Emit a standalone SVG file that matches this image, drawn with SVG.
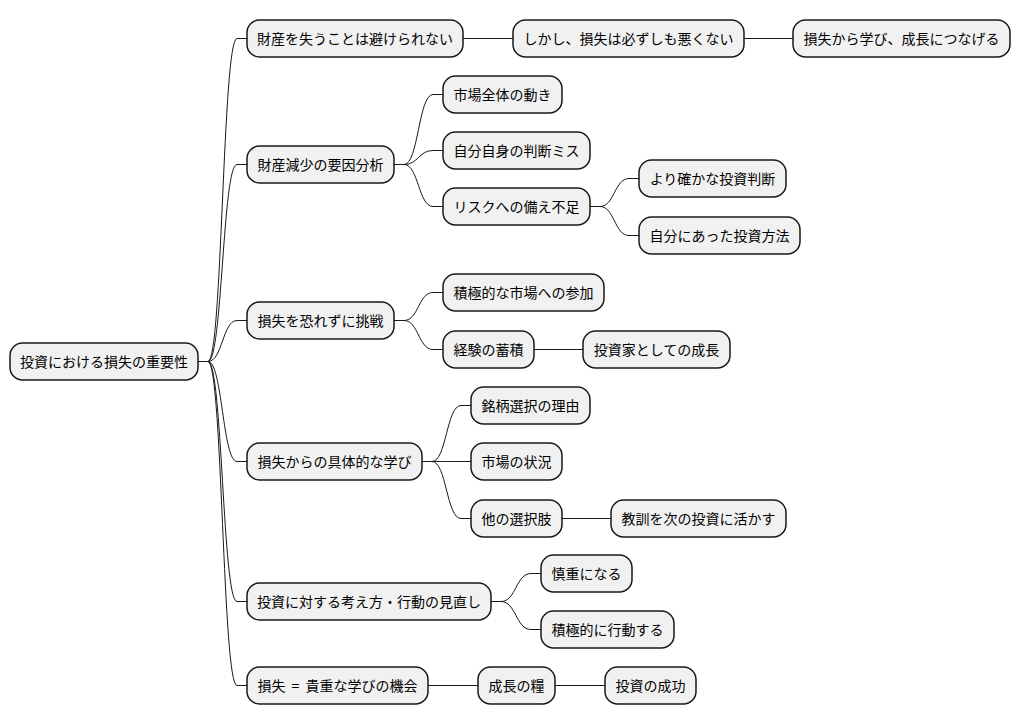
<svg xmlns="http://www.w3.org/2000/svg" width="1020" height="724" viewBox="0 0 1020 724">
<style>
.n rect{fill:#F1F1F1;stroke:#181818;stroke-width:1.5}
.n text{font-family:"Noto Sans CJK JP","Noto Sans",sans-serif;font-size:14px;fill:#000;text-anchor:middle}
.c path{fill:none;stroke:#181818;stroke-width:1}
</style>
<rect width="1020" height="724" fill="#FFFFFF"/>
<g class="c" id="connectors">
<path d="M198,361.5 L208,361.5 C222.5,361.5 222.5,38.5 237,38.5 L247,38.5"/>
<path d="M198,361.5 L208,361.5 C222.5,361.5 222.5,164.5 237,164.5 L247,164.5"/>
<path d="M198,361.5 L208,361.5 C222.5,361.5 222.5,320.5 237,320.5 L247,320.5"/>
<path d="M198,361.5 L208,361.5 C222.5,361.5 222.5,461.5 237,461.5 L247,461.5"/>
<path d="M198,361.5 L208,361.5 C222.5,361.5 222.5,601.5 237,601.5 L247,601.5"/>
<path d="M198,361.5 L208,361.5 C222.5,361.5 222.5,685.5 237,685.5 L247,685.5"/>
<path d="M463,38.5 L513,38.5"/>
<path d="M744,38.5 L793,38.5"/>
<path d="M394,164.5 L404,164.5 C418.5,164.5 418.5,94.5 433,94.5 L443,94.5"/>
<path d="M394,164.5 L404,164.5 C418.5,164.5 418.5,150.5 433,150.5 L443,150.5"/>
<path d="M394,164.5 L404,164.5 C418.5,164.5 418.5,206.5 433,206.5 L443,206.5"/>
<path d="M590,206.5 L600,206.5 C614.5,206.5 614.5,178.5 629,178.5 L639,178.5"/>
<path d="M590,206.5 L600,206.5 C614.5,206.5 614.5,235.5 629,235.5 L639,235.5"/>
<path d="M394,320.5 L404,320.5 C418.5,320.5 418.5,292.5 433,292.5 L443,292.5"/>
<path d="M394,320.5 L404,320.5 C418.5,320.5 418.5,349.5 433,349.5 L443,349.5"/>
<path d="M534,349.5 L583,349.5"/>
<path d="M422,461.5 L432,461.5 C446.5,461.5 446.5,405.5 461,405.5 L471,405.5"/>
<path d="M422,461.5 L432,461.5 C446.5,461.5 446.5,461.5 461,461.5 L471,461.5"/>
<path d="M422,461.5 L432,461.5 C446.5,461.5 446.5,518.5 461,518.5 L471,518.5"/>
<path d="M562,518.5 L611,518.5"/>
<path d="M491,601.5 L501,601.5 C516,601.5 516,573.5 531,573.5 L541,573.5"/>
<path d="M491,601.5 L501,601.5 C516,601.5 516,629.5 531,629.5 L541,629.5"/>
<path d="M428,685.5 L478,685.5"/>
<path d="M555,685.5 L605,685.5"/>
</g>
<g class="n" id="root"><rect x="10" y="343" width="188" height="37" rx="12.5"/><text x="104" y="366.5">投資における損失の重要性</text></g>
<g class="n" id="n1"><rect x="247" y="20" width="216" height="37" rx="12.5"/><text x="355" y="43.5">財産を失うことは避けられない</text></g>
<g class="n" id="n1a"><rect x="513" y="20" width="231" height="37" rx="12.5"/><text x="628.5" y="43.5">しかし、損失は必ずしも悪くない</text></g>
<g class="n" id="n1b"><rect x="793" y="20" width="217" height="37" rx="12.5"/><text x="901.5" y="43.5">損失から学び、成長につなげる</text></g>
<g class="n" id="n2"><rect x="247" y="146" width="147" height="37" rx="12.5"/><text x="320.5" y="169.5">財産減少の要因分析</text></g>
<g class="n" id="n2a"><rect x="443" y="76" width="119" height="37" rx="12.5"/><text x="502.5" y="99.5">市場全体の動き</text></g>
<g class="n" id="n2b"><rect x="443" y="132" width="147" height="37" rx="12.5"/><text x="516.5" y="155.5">自分自身の判断ミス</text></g>
<g class="n" id="n2c"><rect x="443" y="188" width="147" height="37" rx="12.5"/><text x="516.5" y="211.5">リスクへの備え不足</text></g>
<g class="n" id="n2c1"><rect x="639" y="160" width="147" height="37" rx="12.5"/><text x="712.5" y="183.5">より確かな投資判断</text></g>
<g class="n" id="n2c2"><rect x="639" y="217" width="161" height="37" rx="12.5"/><text x="719.5" y="240.5">自分にあった投資方法</text></g>
<g class="n" id="n3"><rect x="247" y="302" width="147" height="37" rx="12.5"/><text x="320.5" y="325.5">損失を恐れずに挑戦</text></g>
<g class="n" id="n3a"><rect x="443" y="274" width="161" height="37" rx="12.5"/><text x="523.5" y="297.5">積極的な市場への参加</text></g>
<g class="n" id="n3b"><rect x="443" y="331" width="91" height="37" rx="12.5"/><text x="488.5" y="354.5">経験の蓄積</text></g>
<g class="n" id="n3b1"><rect x="583" y="331" width="147" height="37" rx="12.5"/><text x="656.5" y="354.5">投資家としての成長</text></g>
<g class="n" id="n4"><rect x="247" y="443" width="175" height="37" rx="12.5"/><text x="334.5" y="466.5">損失からの具体的な学び</text></g>
<g class="n" id="n4a"><rect x="471" y="387" width="119" height="37" rx="12.5"/><text x="530.5" y="410.5">銘柄選択の理由</text></g>
<g class="n" id="n4b"><rect x="471" y="443" width="91" height="37" rx="12.5"/><text x="516.5" y="466.5">市場の状況</text></g>
<g class="n" id="n4c"><rect x="471" y="500" width="91" height="37" rx="12.5"/><text x="516.5" y="523.5">他の選択肢</text></g>
<g class="n" id="n4c1"><rect x="611" y="500" width="175" height="37" rx="12.5"/><text x="698.5" y="523.5">教訓を次の投資に活かす</text></g>
<g class="n" id="n5"><rect x="247" y="583" width="244" height="37" rx="12.5"/><text x="369" y="606.5">投資に対する考え方・行動の見直し</text></g>
<g class="n" id="n5a"><rect x="541" y="555" width="91" height="37" rx="12.5"/><text x="586.5" y="578.5">慎重になる</text></g>
<g class="n" id="n5b"><rect x="541" y="611" width="133" height="37" rx="12.5"/><text x="607.5" y="634.5">積極的に行動する</text></g>
<g class="n" id="n6"><rect x="247" y="667" width="181" height="37" rx="12.5"/><text x="337.5" y="690.5">損失 <tspan dx="3">=</tspan><tspan dx="3"> 貴重な学びの機会</tspan></text></g>
<g class="n" id="n6a"><rect x="478" y="667" width="77" height="37" rx="12.5"/><text x="516.5" y="690.5">成長の糧</text></g>
<g class="n" id="n6b"><rect x="605" y="667" width="91" height="37" rx="12.5"/><text x="650.5" y="690.5">投資の成功</text></g>
</svg>
